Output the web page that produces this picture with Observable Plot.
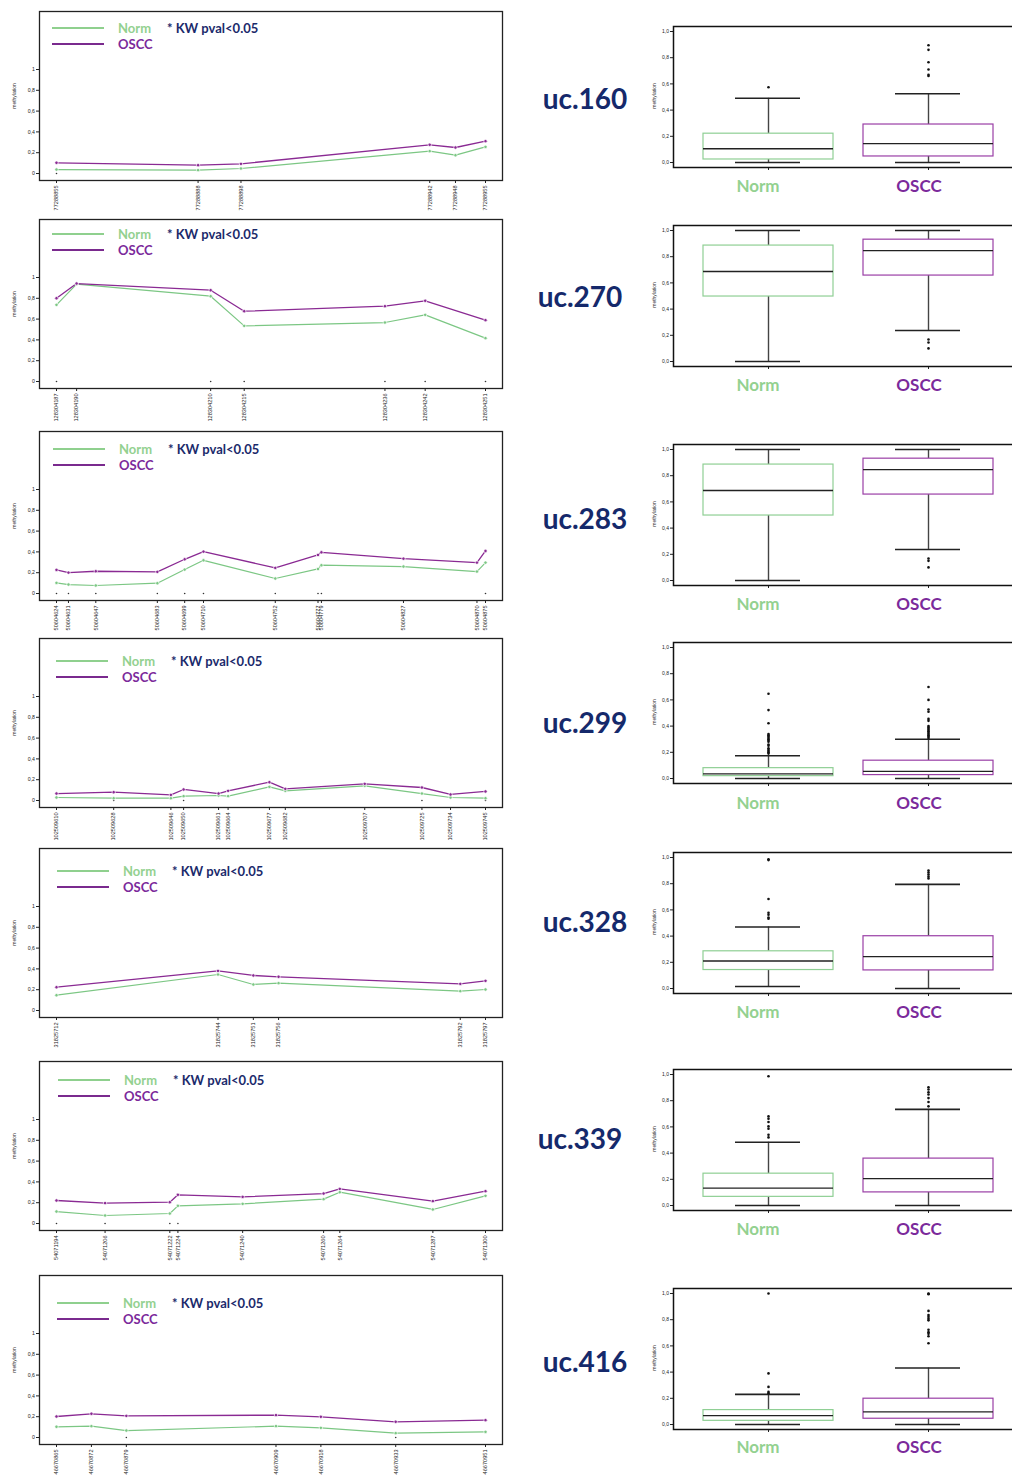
<!DOCTYPE html>
<html>
<head>
<meta charset="utf-8">
<script src="https://cdn.jsdelivr.net/npm/d3@7"></script>
<script src="https://cdn.jsdelivr.net/npm/@observablehq/plot@0.6"></script>
<style>
  html, body { margin: 0; padding: 0; background: #fff; }
  body { width: 1012px; height: 1479px; overflow: hidden; position: relative; font-family: "Liberation Sans", sans-serif; }
  .abs { position: absolute; }
  .lg { position: absolute; font-family: Lato, "Open Sans", sans-serif; font-weight: 700; font-size: 13px; white-space: nowrap; transform: translateY(-50%); line-height: 1; }
  .uc { position: absolute; font-family: Lato, "Open Sans", sans-serif; font-weight: 700; font-size: 28px; color: #15296b; white-space: nowrap; transform: translate(-50%, -50%); line-height: 1; }
  .grp { position: absolute; font-family: Lato, "Open Sans", sans-serif; font-weight: 700; font-size: 17px; white-space: nowrap; transform: translate(-50%, -50%); line-height: 1; }
  .ylab { position: absolute; font-family: "Liberation Sans", sans-serif; font-size: 5px; color: #333; white-space: nowrap; transform: translate(-50%, -50%) rotate(-90deg); }
  svg { position: absolute; overflow: visible; }
</style>
</head>
<body>
<script>
// ---------- DATA ----------
const ucNames = ["uc.160", "uc.270", "uc.283", "uc.299", "uc.328", "uc.339", "uc.416"];
const groups = ["Norm", "OSCC"];

// probe positions and mean methylation (line charts)
const pos160 = [77288855, 77288888, 77288898, 77288942, 77288948, 77288955];
const norm160 = [0.038, 0.032, 0.048, 0.215, 0.176, 0.256];
const oscc160 = [0.103, 0.080, 0.093, 0.276, 0.250, 0.311];
const sig160 = [1, 0, 0, 0, 0, 0];

const pos270 = [128304187, 128304190, 128304210, 128304215, 128304236, 128304242, 128304251];
const norm270 = [0.737, 0.936, 0.820, 0.535, 0.567, 0.641, 0.417];
const oscc270 = [0.801, 0.942, 0.878, 0.676, 0.724, 0.776, 0.590];
const sig270 = [1, 0, 1, 1, 1, 1, 1];

const pos283 = [50604624, 50604631, 50604647, 50604683, 50604699, 50604710, 50604752, 50604777, 50604779, 50604827, 50604870, 50604875];
const norm283 = [0.102, 0.086, 0.077, 0.099, 0.230, 0.319, 0.144, 0.236, 0.272, 0.259, 0.211, 0.297];
const oscc283 = [0.227, 0.201, 0.214, 0.208, 0.329, 0.403, 0.246, 0.371, 0.396, 0.335, 0.297, 0.409];
const sig283 = [1, 1, 1, 1, 1, 1, 1, 1, 1, 0, 0, 1];

const pos299 = [102509610, 102509628, 102509646, 102509650, 102509661, 102509664, 102509677, 102509682, 102509707, 102509725, 102509734, 102509745];
const norm299 = [0.029, 0.022, 0.022, 0.042, 0.048, 0.042, 0.131, 0.093, 0.141, 0.067, 0.029, 0.022];
const oscc299 = [0.067, 0.080, 0.054, 0.106, 0.067, 0.093, 0.176, 0.112, 0.160, 0.125, 0.058, 0.087];
const sig299 = [0, 1, 0, 1, 0, 0, 0, 0, 0, 1, 0, 1];

const pos328 = [31825712, 31825744, 31825751, 31825756, 31825792, 31825797];
const norm328 = [0.147, 0.346, 0.250, 0.263, 0.186, 0.202];
const oscc328 = [0.224, 0.381, 0.337, 0.324, 0.256, 0.285];
const sig328 = [0, 0, 0, 0, 0, 0];

const pos339 = [54071194, 54071206, 54071222, 54071224, 54071240, 54071260, 54071264, 54071287, 54071300];
const norm339 = [0.115, 0.077, 0.096, 0.170, 0.189, 0.234, 0.301, 0.135, 0.266];
const oscc339 = [0.221, 0.196, 0.205, 0.276, 0.256, 0.288, 0.333, 0.215, 0.311];
const sig339 = [1, 1, 1, 1, 0, 0, 0, 0, 0];

const pos416 = [46670865, 46670872, 46670879, 46670909, 46670918, 46670933, 46670951];
const norm416 = [0.103, 0.109, 0.067, 0.109, 0.093, 0.042, 0.054];
const oscc416 = [0.202, 0.228, 0.208, 0.215, 0.199, 0.151, 0.167];
const sig416 = [0, 0, 1, 0, 0, 1, 0];

// box plot stats: [lower whisker, Q1, median, Q3, upper whisker]
const box160N = [0, 0.023, 0.105, 0.22, 0.49];
const box160O = [0, 0.046, 0.144, 0.29, 0.525];
const out160N = [0.575];
const out160O = [0.66, 0.67, 0.71, 0.765, 0.86, 0.895];

const box270N = [0, 0.496, 0.687, 0.885, 1.0];
const box270O = [0.237, 0.656, 0.847, 0.93, 1.0];
const out270N = [];
const out270O = [0.168, 0.145, 0.10];

const box283N = [0, 0.496, 0.687, 0.885, 1.0];
const box283O = [0.237, 0.656, 0.847, 0.93, 1.0];
const out283N = [];
const out283O = [0.168, 0.15, 0.10];

const box299N = [0, 0.018, 0.036, 0.079, 0.174];
const box299O = [0, 0.026, 0.054, 0.136, 0.30];
const out299N = [0.647, 0.522, 0.422, 0.34, 0.33, 0.32, 0.31, 0.30, 0.29, 0.28, 0.26, 0.25, 0.23, 0.22, 0.21, 0.20, 0.19];
const out299O = [0.698, 0.60, 0.527, 0.51, 0.455, 0.44, 0.40, 0.39, 0.38, 0.37, 0.36, 0.35, 0.34, 0.33, 0.32, 0.31];

const box328N = [0.015, 0.141, 0.21, 0.284, 0.47];
const box328O = [0, 0.138, 0.243, 0.399, 0.795];
const out328N = [0.987, 0.98, 0.683, 0.578, 0.563, 0.542, 0.532];
const out328O = [0.90, 0.885, 0.87, 0.854, 0.84];

const box339N = [0, 0.066, 0.133, 0.243, 0.483];
const box339O = [0, 0.10, 0.205, 0.358, 0.734];
const out339N = [0.987, 0.68, 0.662, 0.637, 0.604, 0.586, 0.54, 0.52];
const out339O = [0.903, 0.885, 0.864, 0.847, 0.82, 0.79, 0.757];

const box416N = [0, 0.028, 0.067, 0.11, 0.23];
const box416O = [0, 0.044, 0.097, 0.197, 0.431];
const out416N = [1.0, 0.39, 0.287, 0.249, 0.238];
const out416O = [1.0, 0.995, 0.867, 0.836, 0.823, 0.808, 0.795, 0.723, 0.705, 0.692, 0.674, 0.62];

const legendNorm = "Norm", legendOscc = "OSCC", legendKW = "* KW pval<0.05";
const yLabel = "methylation";
const lineYTicks = [0, 0.2, 0.4, 0.6, 0.8, 1];
const boxYTicks = [0, 0.2, 0.4, 0.6, 0.8, 1];

// ---------- STYLE / LAYOUT ----------
const C = {
  normLine: "#7cc784", osccLine: "#8a2a93",
  normLegendLine: "#8fd08e", osccLegendLine: "#7a2a8e",
  normText: "#93d190", osccText: "#7b2a9b", kw: "#1b2a6b",
  normBox: "#8fcf94", osccBox: "#9a3fa6"
};
// per-row layout (pixels)
const layout = [
  {lineTop: 11,   lgX: 52, lgY: 28,   ucX: 585, ucY: 98,   boxTop: 26,   grpY: 185},
  {lineTop: 219,  lgX: 52, lgY: 234,  ucX: 580, ucY: 296,  boxTop: 225,  grpY: 384},
  {lineTop: 431,  lgX: 53, lgY: 449,  ucX: 585, ucY: 518,  boxTop: 444,  grpY: 603},
  {lineTop: 638,  lgX: 56, lgY: 661,  ucX: 585, ucY: 722,  boxTop: 642,  grpY: 802},
  {lineTop: 848,  lgX: 57, lgY: 871,  ucX: 585, ucY: 921,  boxTop: 852,  grpY: 1011},
  {lineTop: 1061, lgX: 58, lgY: 1080, ucX: 580, ucY: 1138, boxTop: 1069, grpY: 1228},
  {lineTop: 1275, lgX: 57, lgY: 1303, ucX: 585, ucY: 1361, boxTop: 1288, grpY: 1446}
];

const rows = [
  {pos: pos160, norm: norm160, oscc: oscc160, sig: sig160, bN: box160N, bO: box160O, oN: out160N, oO: out160O},
  {pos: pos270, norm: norm270, oscc: oscc270, sig: sig270, bN: box270N, bO: box270O, oN: out270N, oO: out270O},
  {pos: pos283, norm: norm283, oscc: oscc283, sig: sig283, bN: box283N, bO: box283O, oN: out283N, oO: out283O},
  {pos: pos299, norm: norm299, oscc: oscc299, sig: sig299, bN: box299N, bO: box299O, oN: out299N, oO: out299O},
  {pos: pos328, norm: norm328, oscc: oscc328, sig: sig328, bN: box328N, bO: box328O, oN: out328N, oO: out328O},
  {pos: pos339, norm: norm339, oscc: oscc339, sig: sig339, bN: box339N, bO: box339O, oN: out339N, oO: out339O},
  {pos: pos416, norm: norm416, oscc: oscc416, sig: sig416, bN: box416N, bO: box416O, oN: out416N, oO: out416O}
];

const commaLine = d => String(d).replace(".", ",");
const commaBox = d => d3.format(".1f")(d).replace(".", ",");

function el(tag, cls, style, text) {
  const e = document.createElement(tag);
  if (cls) e.className = cls;
  Object.assign(e.style, style || {});
  if (text != null) e.textContent = text;
  document.body.appendChild(e);
  return e;
}

rows.forEach((r, i) => {
  const L = layout[i];
  // ----- line chart -----
  const normData = r.pos.map((p, j) => ({x: p, y: r.norm[j]}));
  const osccData = r.pos.map((p, j) => ({x: p, y: r.oscc[j]}));
  const sigData = r.pos.filter((p, j) => r.sig[j]).map(p => ({x: p}));
  const lineChart = Plot.plot({
    width: 512, height: 219,
    marginTop: 5, marginBottom: 45, marginLeft: 39, marginRight: 10,
    x: {domain: d3.extent(r.pos), insetLeft: 17, insetRight: 17},
    y: {domain: [0, 1], insetTop: 58, insetBottom: 7},
    style: {fontFamily: "Liberation Sans", background: "transparent", color: "#222"},
    marks: [
      Plot.axisY({ticks: lineYTicks, tickFormat: commaLine, tickSize: 3, tickPadding: 1.5, fontSize: 5.2, label: null}),
      Plot.axisX({ticks: r.pos, tickFormat: d => String(d), tickRotate: -90, tickSize: 3, tickPadding: 2, fontSize: 5.6, label: null}),
      Plot.dot(sigData, {x: "x", y: 0, r: 0.8, fill: "#333"}),
      Plot.line(normData, {x: "x", y: "y", stroke: C.normLine, strokeWidth: 1.2}),
      Plot.line(osccData, {x: "x", y: "y", stroke: C.osccLine, strokeWidth: 1.3}),
      Plot.dot(normData, {x: "x", y: "y", r: 1.7, fill: C.normLine, stroke: "white", strokeWidth: 0.7}),
      Plot.dot(osccData, {x: "x", y: "y", r: 1.7, fill: C.osccLine, stroke: "white", strokeWidth: 0.7}),
      Plot.frame({stroke: "#222", strokeWidth: 1.3})
    ]
  });
  lineChart.style.left = "0px";
  lineChart.style.top = (L.lineTop - 5) + "px";
  document.body.appendChild(lineChart);

  el("div", "ylab", {left: "14px", top: (L.lineTop + 85) + "px"}, yLabel);

  // legend
  el("div", "abs", {left: L.lgX + "px", top: (L.lgY - 1) + "px", width: "52px", height: "2px", background: C.normLegendLine});
  el("div", "abs", {left: L.lgX + "px", top: (L.lgY + 15) + "px", width: "52px", height: "2px", background: C.osccLegendLine});
  el("div", "lg", {left: (L.lgX + 66) + "px", top: L.lgY + "px", color: C.normText}, legendNorm);
  el("div", "lg", {left: (L.lgX + 66) + "px", top: (L.lgY + 16) + "px", color: C.osccText}, legendOscc);
  el("div", "lg", {left: (L.lgX + 115) + "px", top: L.lgY + "px", color: C.kw}, legendKW);

  // uc label
  el("div", "uc", {left: L.ucX + "px", top: L.ucY + "px"}, ucNames[i]);

  // ----- box plot -----
  const stats = [
    {g: "Norm", lo: r.bN[0], q1: r.bN[1], med: r.bN[2], q3: r.bN[3], hi: r.bN[4]},
    {g: "OSCC", lo: r.bO[0], q1: r.bO[1], med: r.bO[2], q3: r.bO[3], hi: r.bO[4]}
  ];
  const outliers = [
    ...r.oN.map(v => ({g: "Norm", v})),
    ...r.oO.map(v => ({g: "OSCC", v}))
  ];
  const boxChart = Plot.plot({
    width: 384, height: 154,
    marginTop: 5, marginBottom: 8, marginLeft: 33, marginRight: 2,
    x: {type: "band", domain: groups, paddingInner: 0.19, paddingOuter: 0.18, align: 0.5},
    y: {domain: [0, 1], insetTop: 5, insetBottom: 5},
    style: {fontFamily: "Liberation Sans", background: "transparent", color: "#222"},
    marks: [
      Plot.ruleX(stats, {x: "g", y1: "lo", y2: "q1", stroke: "#444", strokeWidth: 1.4}),
      Plot.ruleX(stats, {x: "g", y1: "q3", y2: "hi", stroke: "#444", strokeWidth: 1.4}),
      Plot.barY(stats.filter(d => d.g === "Norm"), {x: "g", y1: "q1", y2: "q3", fill: "white", stroke: C.normBox, strokeWidth: 1.2}),
      Plot.barY(stats.filter(d => d.g === "OSCC"), {x: "g", y1: "q1", y2: "q3", fill: "white", stroke: C.osccBox, strokeWidth: 1.2}),
      Plot.tickY(stats, {x: "g", y: "med", stroke: "#222", strokeWidth: 1.3}),
      Plot.tickY(stats, {x: "g", y: "lo", stroke: "#222", strokeWidth: 1.6, insetLeft: 32, insetRight: 33}),
      Plot.tickY(stats, {x: "g", y: "hi", stroke: "#222", strokeWidth: 1.6, insetLeft: 32, insetRight: 33}),
      Plot.dot(outliers, {x: "g", y: "v", r: 1.3, fill: "#111"}),
      Plot.axisY({ticks: boxYTicks, tickFormat: commaBox, tickSize: 3, tickPadding: 1.5, fontSize: 5, label: null}),
      Plot.axisX({tickSize: 3, tickFormat: () => "", label: null}),
      Plot.frame({stroke: "#111", strokeWidth: 1.5})
    ]
  });
  boxChart.style.left = "640px";
  boxChart.style.top = (L.boxTop - 5) + "px";
  document.body.appendChild(boxChart);

  el("div", "ylab", {left: "654px", top: (L.boxTop + 70) + "px"}, yLabel);
  el("div", "grp", {left: "758px", top: L.grpY + "px", color: C.normText}, groups[0]);
  el("div", "grp", {left: "919px", top: L.grpY + "px", color: C.osccText}, groups[1]);
});
</script>
</body>
</html>
